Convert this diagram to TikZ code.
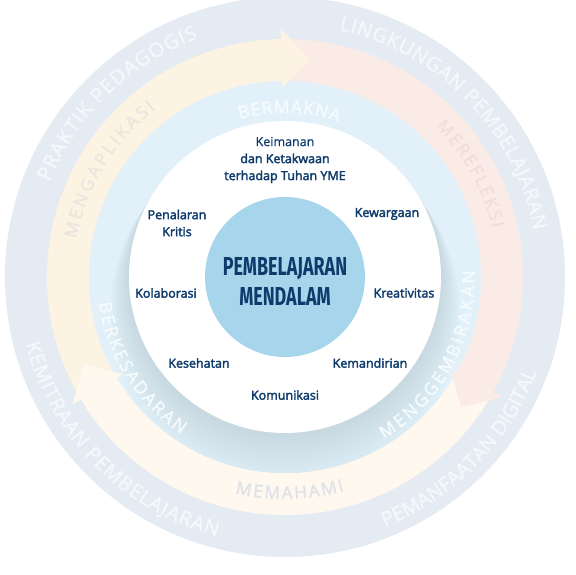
\documentclass[tikz,border=0pt]{standalone}
\usepackage{fontspec}
\setmainfont{Open Sans}
\newfontfamily\ringfont[Scale=2.0,FakeBold=1.5]{Open Sans}
\newfontfamily\ringfontb[Scale=1.75,FakeBold=1.5]{Open Sans}
\newfontfamily\lblfont[FakeBold=2.5]{Open Sans}
\newfontfamily\lblplain[FakeBold=0.8]{Open Sans}
\newfontfamily\titlefont[FakeStretch=0.69]{Fira Sans}
\usepackage{tikz}
\usetikzlibrary{decorations.text}
\definecolor{outc}{HTML}{E4EBF2}
\definecolor{yelc}{HTML}{FDF3E3}
\definecolor{pinkc}{HTML}{FBEBE6}
\definecolor{crmc}{HTML}{FEF8EE}
\definecolor{lbc}{HTML}{E2F1F9}
\definecolor{shdc}{HTML}{5E7A8E}
\definecolor{corec}{HTML}{A7D5EC}
\definecolor{navyc}{HTML}{0E3B6C}
\definecolor{outtc}{HTML}{F5F8FB}
\definecolor{lbtc}{HTML}{F6FBFD}
\definecolor{yeltc}{HTML}{EAE5DE}
\definecolor{pinktc}{HTML}{EEDFDB}
\definecolor{crmtc}{HTML}{DEE3E9}
\tikzset{
  lbl/.style={text=navyc,font=\lblfont\fontsize{12.5pt}{17pt}\selectfont,align=center,inner sep=1pt},
  ttl/.style={text=navyc,font=\titlefont\bfseries\fontsize{26pt}{30pt}\selectfont,align=center,inner sep=0pt},
  ringtxt/.style={decorate,decoration={text along path,text align=fit to path,text color=#1}}
}

\begin{document}
\begin{tikzpicture}[x=1pt,y=1pt]
\useasboundingbox (-285,-298) rectangle (291,277);
\fill[white] (-285,-298) rectangle (291,277);
\coordinate (c) at (0,0);
\fill[outc] (c) circle (280pt);
\foreach \a/\e/\col in {211/91/yelc,91/-29/pinkc,-29/-149/crmc}
  \fill[\col] (\a:238pt) arc[start angle=\a,end angle=\e,radius=238pt] -- (\e:196pt) arc[start angle=\e,end angle=\a,radius=196pt] -- cycle;
\fill[lbc] (c) circle (196pt);
\begin{scope}
\clip (c) circle (196pt);
\foreach \i in {1,...,12}
  \fill[shdc,opacity=0.014] (0,-3*\i) circle ({(156+1.6*\i)*1pt});
\end{scope}
\fill[white] (c) circle (156pt);
\foreach \b/\col in {91/yelc,-29/pinkc,211/crmc}
  \fill[\col] (\b:189pt) -- ({\b-7.5}:219pt) -- (\b:248pt) -- cycle;
\path[ringtxt=outtc,decoration={text={|\ringfont|PRAKTIK PEDAGOGIS}}] (158:254pt) arc[start angle=158,end angle=110,radius=254pt];
\path[ringtxt=outtc,decoration={text={|\ringfont|LINGKUNGAN PEMBELAJARAN}}] (77.7:253pt) arc[start angle=77.7,end angle=10.6,radius=253pt];
\path[ringtxt=outtc,decoration={text={|\ringfont|KEMITRAAN PEMBELAJARAN}}] (194.4:268pt) arc[start angle=194.4,end angle=255.3,radius=268pt];
\path[ringtxt=outtc,decoration={text={|\ringfont|PEMANFAATAN DIGITAL}}] (-68.2:269pt) arc[start angle=-68.2,end angle=-21.3,radius=269pt];
\path[ringtxt=yeltc,decoration={text={|\ringfontb|MENGAPLIKASI}}] (169.6:212pt) arc[start angle=169.6,end angle=127.6,radius=212pt];
\path[ringtxt=pinktc,decoration={text={|\ringfontb|MEREFLEKSI}}] (45:213pt) arc[start angle=45,end angle=13.2,radius=213pt];
\path[ringtxt=crmtc,decoration={text={|\ringfontb|MEMAHAMI}}] (257:222pt) arc[start angle=257,end angle=285.5,radius=222pt];
\path[ringtxt=lbtc,decoration={text={|\ringfontb|BERMAKNA}}] (106:164pt) arc[start angle=106,end angle=71,radius=164pt];
\path[ringtxt=lbtc,decoration={text={|\ringfontb|BERKESADARAN}}] (188:188pt) arc[start angle=188,end angle=236.6,radius=188pt];
\path[ringtxt=lbtc,decoration={text={|\ringfontb|MENGGEMBIRAKAN}}] (-58.5:190pt) arc[start angle=-58.5,end angle=2,radius=190pt];
\node[circle,fill=corec,minimum size=160pt,inner sep=0pt] (core) at (c) {};
\node[ttl] (title) at (0,-4) {PEMBELAJARAN\\MENDALAM};
\node[lbl] (keimanan) at (0,117) {{\lblplain Keimanan}\\dan Ketakwaan\\terhadap Tuhan YME};
\node[lbl] (penalaran) at (-108,54) {Penalaran\\Kritis};
\node[lbl] (kewargaan) at (102,63) {Kewargaan};
\node[lbl] (kolaborasi) at (-119,-16) {Kolaborasi};
\node[lbl] (kreativitas) at (119,-16) {Kreativitas};
\node[lbl] (kesehatan) at (-86,-86) {Kesehatan};
\node[lbl] (kemandirian) at (85,-86) {Kemandirian};
\node[lbl] (komunikasi) at (0,-118) {Komunikasi};
\end{tikzpicture}
\end{document}
